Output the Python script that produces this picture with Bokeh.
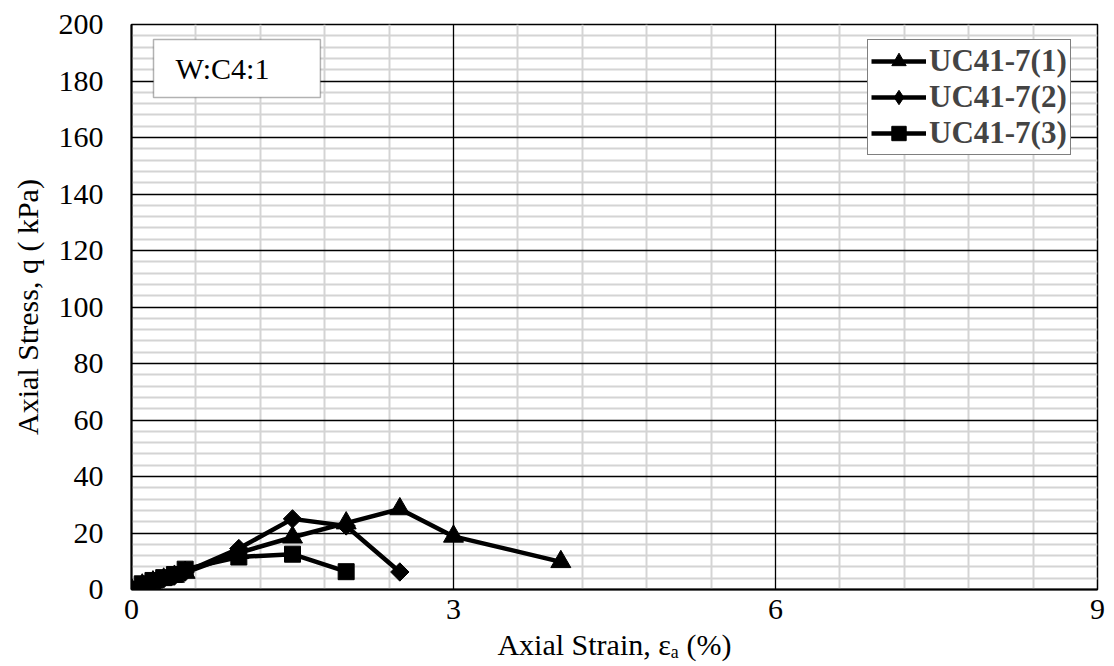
from bokeh.plotting import figure
from bokeh.models import (FixedTicker, Legend, LegendItem, Label, BoxAnnotation,
                          Range1d, Grid)
from bokeh.embed import file_html
from bokeh.resources import INLINE
import math

# ---- data ----
s1_name = "UC41-7(1)"
s1_x = [0, 0.1, 0.2, 0.3, 0.4, 0.5, 1.0, 1.5, 2.0, 2.5, 3.0, 4.0]
s1_y = [0, 1.5, 2.6, 3.6, 4.6, 6.0, 13.0, 18.5, 23.5, 28.5, 18.8, 9.8]

s2_name = "UC41-7(2)"
s2_x = [0, 0.1, 0.2, 0.3, 0.4, 0.5, 1.0, 1.5, 2.0, 2.5]
s2_y = [0, 1.6, 2.8, 3.8, 4.8, 6.2, 14.5, 25.0, 22.5, 6.2]

s3_name = "UC41-7(3)"
s3_x = [0, 0.1, 0.2, 0.3, 0.4, 0.5, 1.0, 1.5, 2.0]
s3_y = [0, 2.0, 3.2, 4.2, 5.3, 7.2, 11.5, 12.5, 6.3]

x_ticks = [0, 3, 6, 9]
y_ticks = [0, 20, 40, 60, 80, 100, 120, 140, 160, 180, 200]
x_minor_step = 0.6
y_minor_step = 4
note_text = "W:C4:1"
x_title = "Axial Strain, \u03b5\u2090 (%)"
y_title = "Axial Stress, q ( kPa)"

FONT = "Liberation Serif"

p = figure(width=1114, height=666, output_backend="svg", toolbar_location=None,
           x_range=Range1d(0, 9), y_range=Range1d(0, 200),
           min_border_left=131, min_border_right=17, min_border_top=24,
           min_border_bottom=77)
p.background_fill_color = "white"
p.border_fill_color = "white"
p.outline_line_color = "black"
p.outline_line_width = 1.5

x_minor = [round(i * x_minor_step, 2) for i in range(1, 15) if round(i * x_minor_step, 2) not in x_ticks]
y_minor = [i * y_minor_step for i in range(1, 50) if i * y_minor_step not in y_ticks]

xt = FixedTicker(ticks=x_ticks, minor_ticks=x_minor)
yt = FixedTicker(ticks=y_ticks, minor_ticks=y_minor)
p.xaxis.ticker = xt
p.yaxis.ticker = yt

# minor grids first (default grids), then major grids on top
for g, t in ((p.xgrid, xt), (p.ygrid, yt)):
    g.ticker = t
    g.grid_line_color = None
    g.minor_grid_line_color = "#d4d4d4"
    g.minor_grid_line_width = 2
for dim, t in ((0, xt), (1, yt)):
    p.add_layout(Grid(dimension=dim, ticker=t, grid_line_color="black",
                      grid_line_width=1.3), "center")

for ax in (p.xaxis, p.yaxis):
    ax.major_tick_line_color = None
    ax.minor_tick_line_color = None
    ax.major_tick_out = 0
    ax.major_tick_in = 0
    ax.minor_tick_out = 0
    ax.minor_tick_in = 0
    ax.axis_line_color = "black"
    ax.axis_line_width = 2
    ax.major_label_text_font = FONT
    ax.major_label_text_font_size = "30px"
    ax.major_label_text_color = "black"
    ax.axis_label_text_font = FONT
    ax.axis_label_text_font_size = "30px"
    ax.axis_label_text_font_style = "normal"
    ax.axis_label_text_color = "black"
p.xaxis.major_label_standoff = 10
p.yaxis.major_label_standoff = 28
p.xaxis.axis_label = x_title
p.yaxis.axis_label = y_title
p.xaxis.axis_label_standoff = 6
p.yaxis.axis_label_standoff = 12

r1l = p.line(s1_x, s1_y, line_color="black", line_width=4.5)
r1m = p.scatter(s1_x, s1_y, marker="triangle", size=20, color="black")
r2l = p.line(s2_x, s2_y, line_color="black", line_width=4.5)
r2m = p.scatter(s2_x, s2_y, marker="square", angle=math.pi / 4, size=13, color="black")
# zero-size diamond renderer: only gives the legend its diamond glyph
r2leg = p.scatter(s2_x, s2_y, marker="diamond", size=0, color="black")
r3l = p.line(s3_x, s3_y, line_color="black", line_width=4.5)
r3m = p.scatter(s3_x, s3_y, marker="square", size=16, color="black")

legend = Legend(items=[
    LegendItem(label=s1_name, renderers=[r1l, r1m]),
    LegendItem(label=s2_name, renderers=[r2l, r2leg]),
    LegendItem(label=s3_name, renderers=[r3l, r3m]),
], location=(736, 434))
legend.label_text_font = FONT
legend.label_text_font_style = "bold"
legend.label_text_font_size = "31px"
legend.label_height = 36
legend.glyph_height = 36
legend.glyph_width = 55
legend.label_standoff = 3
legend.spacing = 0
legend.padding = 3
legend.margin = 0
legend.border_line_color = "black"
legend.border_line_width = 1.5
legend.background_fill_alpha = 1
p.add_layout(legend, "center")

# note box
p.add_layout(BoxAnnotation(left=0.205, right=1.76, bottom=174.2, top=194.7,
                           fill_color="white", fill_alpha=1,
                           line_color="black", line_width=1.5))
p.add_layout(Label(x=0.41, y=184.5, text=note_text, text_font=FONT,
                   text_font_size="30px", text_baseline="middle", text_color="black"))

open("out.html", "w").write(file_html(p, INLINE))
